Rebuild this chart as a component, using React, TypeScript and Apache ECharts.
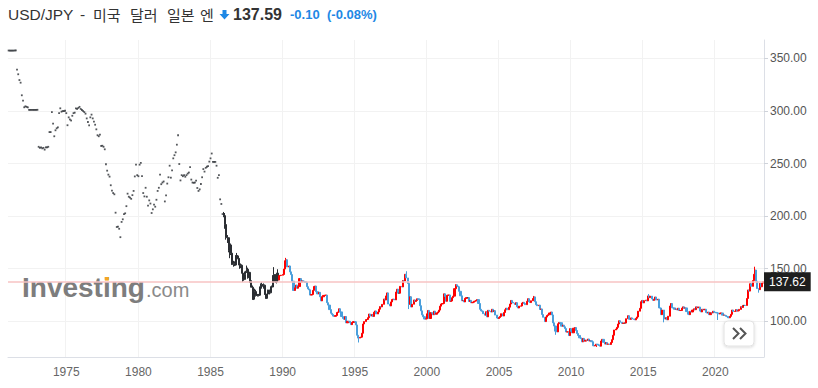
import React, { useEffect, useRef } from 'react';
import * as echarts from 'echarts';

// ---------- DATA (monthly closes, USD/JPY) ----------
const startYear = 1971;

const closes1970s = [
  357.6, 357.5, 357.5, 357.5, 357.5, 357.6, 357.7, 339.5, 335.0, 329.5, 327.0, 315.0, // 1971
  310.0, 303.6, 304.5, 304.0, 303.5, 301.1, 301.1, 301.1, 301.1, 301.1, 301.1, 301.1, // 1972
  301.2, 266.0, 265.0, 265.5, 264.5, 265.0, 263.3, 265.5, 265.5, 266.0, 280.0, 280.0, // 1973
  299.0, 288.0, 276.0, 281.7, 283.6, 284.5, 298.0, 302.6, 299.4, 300.0, 300.0, 300.3, // 1974
  298.0, 286.5, 294.0, 292.0, 291.0, 295.5, 298.0, 298.5, 302.6, 302.0, 303.0, 304.0, // 1975
  302.0, 301.0, 300.0, 299.0, 297.5, 293.0, 289.6, 286.4, 294.0, 296.6, 293.0, 290.0, // 1976
  287.0, 282.6, 277.0, 276.0, 277.5, 266.8, 267.0, 266.0, 263.6, 249.4, 243.3, 239.5, // 1977
  237.6, 229.4, 224.2, 222.0, 220.8, 203.3, 189.7, 190.0, 188.0, 180.0, 194.5, 197.0, // 1978
  202.0, 202.7, 209.5, 221.4, 218.5, 217.6, 216.5, 220.0, 224.0, 237.8, 249.0, 239.0, // 1979
];
const closes1980s = [
  238.0, 249.0, 250.7, 238.0, 222.0, 218.8, 227.0, 218.5, 210.0, 215.0, 212.0, 203.0, // 1980
  206.5, 210.9, 209.0, 215.6, 224.0, 227.0, 239.5, 230.4, 232.0, 233.0, 214.0, 219.7, // 1981
  231.0, 237.0, 248.0, 236.6, 243.5, 255.0, 258.0, 260.7, 268.0, 277.0, 249.6, 234.0, // 1982
  239.0, 238.0, 239.0, 237.5, 239.0, 240.5, 241.5, 246.6, 234.8, 232.0, 231.7, 232.0, // 1983
  233.8, 226.8, 224.0, 225.5, 230.6, 237.0, 244.8, 242.4, 246.0, 247.0, 247.6, 251.9, // 1984
  255.0, 259.6, 251.6, 251.6, 251.6, 248.0, 236.5, 239.0, 216.0, 211.6, 202.0, 200.5, // 1985
  192.0, 180.0, 179.5, 167.3, 172.6, 164.8, 154.2, 155.0, 153.5, 162.3, 162.2, 159.8, // 1986
  153.5, 153.3, 145.8, 139.6, 144.4, 147.0, 149.5, 142.0, 146.5, 137.6, 132.4, 121.0, // 1987
  127.3, 128.2, 124.6, 125.0, 124.8, 132.6, 133.2, 135.0, 134.3, 125.5, 121.8, 125.9, // 1988
  129.6, 127.1, 132.9, 132.6, 143.4, 144.3, 137.5, 145.8, 139.2, 143.3, 143.6, 143.8, // 1989
];
const closes1990s = [
  144.5, 149.7, 157.6, 158.5, 151.6, 152.6, 147.0, 144.4, 138.1, 129.3, 131.8, 134.4, // 1990
  131.4, 133.0, 140.6, 137.3, 138.5, 138.2, 137.6, 137.1, 132.9, 130.8, 129.9, 124.9, // 1991
  125.5, 129.4, 133.1, 133.5, 128.1, 126.0, 127.5, 123.3, 119.4, 123.3, 124.6, 124.8, // 1992
  124.9, 117.7, 115.4, 111.1, 107.6, 106.5, 104.9, 104.7, 105.5, 108.4, 108.8, 111.9, // 1993
  108.9, 104.5, 102.7, 101.8, 104.5, 98.5, 100.0, 99.9, 98.6, 96.8, 98.8, 99.7,       // 1994
  99.5, 96.5, 86.7, 84.0, 84.7, 84.9, 88.6, 97.4, 99.7, 101.6, 101.7, 103.4,          // 1995
  106.9, 104.9, 106.5, 104.6, 108.6, 109.8, 106.9, 108.8, 111.5, 114.0, 113.7, 116.1, // 1996
  121.2, 120.2, 124.1, 127.0, 116.4, 114.6, 118.4, 120.7, 121.1, 120.3, 127.8, 130.5, // 1997
  126.7, 126.7, 133.2, 132.7, 138.8, 138.3, 144.7, 141.2, 136.0, 116.1, 123.3, 113.6, // 1998
  116.2, 120.3, 118.8, 119.8, 121.4, 120.8, 114.8, 109.9, 106.1, 104.3, 102.1, 102.3, // 1999
];
const closes2000s = [
  107.1, 110.3, 102.6, 108.2, 107.7, 106.2, 109.6, 106.7, 107.9, 108.9, 110.6, 114.4, // 2000
  116.4, 116.9, 126.1, 123.6, 119.0, 124.7, 125.0, 118.9, 119.3, 122.4, 123.9, 131.0, // 2001
  134.7, 133.5, 132.8, 128.5, 124.2, 119.5, 119.8, 118.4, 121.8, 122.5, 122.5, 118.8, // 2002
  119.9, 117.6, 118.1, 119.0, 119.2, 119.8, 120.6, 116.9, 111.4, 109.9, 109.6, 107.2, // 2003
  105.8, 109.1, 104.2, 110.4, 109.6, 108.8, 111.4, 109.2, 110.1, 105.9, 103.1, 102.6, // 2004
  103.6, 104.6, 107.2, 105.0, 108.3, 110.9, 112.4, 111.0, 113.4, 116.4, 119.8, 117.9, // 2005
  117.3, 116.0, 117.7, 113.8, 112.6, 114.4, 114.6, 117.3, 118.0, 116.9, 115.8, 119.0, // 2006
  121.5, 118.6, 117.8, 119.5, 121.7, 123.2, 118.6, 115.8, 114.8, 115.3, 111.2, 111.7, // 2007
  106.4, 103.8, 99.7, 104.0, 105.5, 106.2, 107.9, 108.8, 106.0, 98.5, 95.5, 90.6,     // 2008
  89.9, 97.6, 98.9, 98.6, 95.3, 96.3, 94.7, 93.0, 89.8, 89.9, 86.4, 93.0,             // 2009
];
const closes2010s = [
  90.3, 89.0, 93.4, 94.0, 91.2, 88.4, 86.5, 84.2, 83.5, 80.4, 83.7, 81.1,             // 2010
  82.0, 81.8, 83.1, 81.2, 81.5, 80.5, 76.7, 76.6, 77.1, 78.2, 77.6, 76.9,             // 2011
  76.3, 81.2, 82.8, 80.0, 78.3, 79.8, 78.1, 78.4, 77.9, 79.8, 82.5, 86.7,             // 2012
  91.7, 92.6, 94.2, 97.4, 100.5, 99.1, 97.9, 98.2, 98.3, 98.3, 102.4, 105.3,          // 2013
  102.0, 101.8, 103.2, 102.2, 101.8, 101.3, 102.8, 104.1, 109.6, 112.3, 118.6, 119.8, // 2014
  117.5, 119.6, 120.1, 119.4, 124.1, 122.5, 123.9, 121.2, 119.9, 120.6, 123.1, 120.2, // 2015
  121.0, 112.7, 112.6, 106.3, 110.7, 103.2, 102.1, 103.4, 101.4, 104.8, 114.5, 116.9, // 2016
  112.8, 112.7, 111.4, 111.5, 110.8, 112.4, 110.2, 110.3, 112.5, 113.7, 112.5, 112.7, // 2017
  109.2, 106.7, 106.3, 109.4, 108.8, 110.7, 111.9, 111.0, 113.7, 112.9, 113.5, 109.7, // 2018
  108.9, 111.4, 110.9, 111.4, 108.3, 107.8, 108.7, 106.3, 108.1, 108.0, 109.5, 108.6, // 2019
];
const closes2020s = [
  108.4, 107.9, 107.5, 106.9, 107.8, 107.9, 105.8, 105.9, 105.5, 104.7, 104.3, 103.3, // 2020
  104.7, 106.6, 110.7, 109.3, 109.6, 111.1, 109.7, 110.0, 111.3, 113.9, 113.1, 115.1, // 2021
  115.1, 115.0, 121.7, 129.8, 128.7, 135.7, 133.2, 138.7, 144.7, 148.7, 138.1, 131.1, // 2022
  130.1, 136.2, 132.8, 136.3, 137.6,                                                   // 2023
];

// 1985-12 .. 1989-09: monthly ranges (black candles)
const blackStart = '1985-12';
const blackEnd = '1989-09';
const blackHighs = [
  204.0,
  203.0, 192.6, 182.0, 180.0, 175.0, 174.0, 167.0, 157.5, 157.0, 163.0, 165.0, 163.0,
  160.0, 155.0, 154.0, 147.0, 145.0, 148.0, 153.0, 151.0, 147.0, 147.0, 139.0, 134.0,
  131.0, 131.0, 130.0, 126.0, 126.0, 133.0, 136.0, 137.0, 136.0, 135.0, 126.0, 126.0,
  130.0, 130.0, 133.0, 134.0, 144.0, 151.5, 145.0, 146.0, 149.5,
];
const blackLows = [
  199.0,
  188.0, 177.6, 174.5, 165.6, 160.0, 163.0, 153.5, 151.9, 152.5, 153.0, 160.0, 159.0,
  149.9, 150.5, 145.5, 137.3, 138.5, 139.5, 146.0, 140.5, 141.0, 136.5, 132.0, 120.3,
  120.2, 126.5, 123.5, 123.5, 123.6, 124.5, 131.0, 131.0, 131.0, 125.0, 121.3, 121.5,
  124.5, 125.5, 126.5, 130.5, 132.5, 139.5, 136.5, 136.0, 138.5,
];
// notable wick extremes of the coloured candles
const wickHighs: [string, number][] = [
  ['1990-04', 160.3], ['1998-08', 147.6], ['2002-01', 135.2], ['2007-06', 124.1],
  ['2015-06', 125.9], ['2022-10', 151.9],
];
const wickLows: [string, number][] = [
  ['1995-04', 79.8], ['1998-10', 111.6], ['2008-12', 87.1], ['2011-10', 75.6],
  ['2016-06', 99.0], ['2020-03', 101.2], ['2023-01', 127.2],
];

const currentPrice = 137.62;
const quotePrice = '137.59';
const quoteChange = '-0.10';
const quotePct = '(-0.08%)';
const yTickValues = [100, 150, 200, 250, 300, 350];

// ---------- derived ----------
const closes = [...closes1970s, ...closes1980s, ...closes1990s, ...closes2000s, ...closes2010s, ...closes2020s];
const months = closes.map((_, i) => {
  const y = startYear + Math.floor(i / 12);
  const m = (i % 12) + 1;
  return `${y}-${m < 10 ? '0' + m : m}`;
});
const blackStartIdx = months.indexOf(blackStart);
const blackEndIdx = months.indexOf(blackEnd);
const hiMap = new Map(wickHighs);
const loMap = new Map(wickLows);

const UP = '#ff0000';
const DOWN = '#4a9fdc';
const BLACK = '#2b2e33';
const blackStyle = {
  color: BLACK, color0: BLACK, borderColor: BLACK, borderColor0: BLACK, borderColorDoji: BLACK, borderWidth: 1,
};

const candleItems = closes.map((c, i) => {
  if (i < blackStartIdx) return '-';
  const o = closes[i - 1];
  if (i <= blackEndIdx) {
    const k = i - blackStartIdx;
    return {
      value: [o, c, Math.min(blackLows[k], o, c), Math.max(blackHighs[k], o, c)],
      itemStyle: blackStyle,
    };
  }
  const m = months[i];
  const hi = Math.max(o, c, hiMap.get(m) ?? -Infinity);
  const lo = Math.min(o, c, loMap.get(m) ?? Infinity);
  return { value: [o, c, lo, hi] };
});
// fixed / early floating era: one close per month, drawn as dots
const dotItems = closes.map((c, i) => (i < blackStartIdx ? c : '-'));

const isLabelMonth = (v: string) => v.endsWith('-01') && Number(v.slice(0, 4)) % 5 === 0;

const FONT = "'Liberation Sans', Arial, 'Noto Sans CJK KR', sans-serif";
const KFONT = "'Noto Sans CJK KR', 'Liberation Sans', sans-serif";

export default function App() {
  const ref = useRef<HTMLDivElement>(null);
  useEffect(() => {
    if (!ref.current) return;
    const chart = echarts.init(ref.current, undefined, { renderer: 'svg' });
    const option: any = {
      animation: false,
      backgroundColor: '#ffffff',
      textStyle: { fontFamily: FONT },
      grid: { left: 8, right: 54, top: 40, bottom: 31 },
      xAxis: {
        type: 'category',
        data: months,
        boundaryGap: true,
        axisLine: { show: true, lineStyle: { color: '#dcdfe6', width: 1 } },
        axisTick: { show: false },
        axisLabel: {
          interval: (_i: number, v: string) => isLabelMonth(v),
          formatter: (v: string) => v.slice(0, 4),
          color: '#666',
          fontSize: 12,
          margin: 9,
          fontFamily: FONT,
        },
        splitLine: {
          show: true,
          interval: (_i: number, v: string) => isLabelMonth(v),
          lineStyle: { color: '#f2f2f2', width: 1 },
        },
      },
      yAxis: {
        type: 'value',
        position: 'right',
        min: 66,
        max: 367.6,
        axisLine: { show: true, lineStyle: { color: '#dcdfe6', width: 1 } },
        axisTick: { show: true, length: 4, inside: false, customValues: yTickValues, lineStyle: { color: '#cfd3da' } },
        axisLabel: {
          customValues: yTickValues,
          formatter: (v: number) => v.toFixed(2),
          color: '#555',
          fontSize: 12,
          margin: 6,
          fontFamily: FONT,
        },
        splitLine: { show: true, lineStyle: { color: '#f2f2f2', width: 1 } },
      },
      series: [
        {
          type: 'scatter',
          data: dotItems,
          symbol: 'rect',
          symbolSize: [1.8, 1.8],
          itemStyle: { color: '#2b2e33' },
          silent: true,
          z: 3,
        },
        {
          type: 'candlestick',
          large: false,
          barWidth: 1.6,
          data: candleItems,
          itemStyle: {
            color: UP, color0: DOWN, borderColor: UP, borderColor0: DOWN, borderColorDoji: BLACK, borderWidth: 1,
          },
          markLine: {
            silent: true,
            symbol: ['none', 'none'],
            lineStyle: { color: '#f7c3c3', width: 1.5, type: 'solid' },
            label: {
              show: true,
              position: 'end',
              distance: 0,
              formatter: currentPrice.toFixed(2),
              backgroundColor: '#1e1e1e',
              color: '#ffffff',
              padding: [4, 5, 3, 5],
              fontSize: 12,
              fontFamily: FONT,
            },
            data: [{ yAxis: currentPrice }],
          },
          z: 3,
        },
      ],
      graphic: [
        { type: 'text', x: 8, y: 14, style: { text: 'USD/JPY', font: `15.5px ${FONT}`, fill: '#333', verticalAlign: 'middle' } },
        { type: 'text', x: 80, y: 14, style: { text: '-', font: `15.5px ${FONT}`, fill: '#333', verticalAlign: 'middle' } },
        { type: 'text', x: 93, y: 14, style: { text: '미국', font: `15px ${KFONT}`, fill: '#333', verticalAlign: 'middle' } },
        { type: 'text', x: 130, y: 14, style: { text: '달러', font: `15px ${KFONT}`, fill: '#333', verticalAlign: 'middle' } },
        { type: 'text', x: 167, y: 14, style: { text: '일본', font: `15px ${KFONT}`, fill: '#333', verticalAlign: 'middle' } },
        { type: 'text', x: 200, y: 14, style: { text: '엔', font: `15px ${KFONT}`, fill: '#333', verticalAlign: 'middle' } },
        {
          type: 'polygon',
          shape: { points: [[222.5, 10], [226.5, 10], [226.5, 14], [229.5, 14], [224.5, 19.5], [219.5, 14], [222.5, 14]] },
          style: { fill: '#1e88e5' },
        },
        { type: 'text', x: 233, y: 14, style: { text: quotePrice, font: `bold 16px ${FONT}`, fill: '#333', verticalAlign: 'middle' } },
        { type: 'text', x: 290, y: 14, style: { text: quoteChange, font: `bold 13px ${FONT}`, fill: '#1e88e5', verticalAlign: 'middle' } },
        { type: 'text', x: 327, y: 14, style: { text: quotePct, font: `bold 13px ${FONT}`, fill: '#1e88e5', verticalAlign: 'middle' } },
        // watermark
        { type: 'text', x: 22, y: 287.3, z: 1, style: { text: 'Investing', font: `bold 28px ${FONT}`, fill: '#7d7d7d', verticalAlign: 'middle' } },
        { type: 'text', x: 146, y: 290, z: 1, style: { text: '.com', font: `20px ${FONT}`, fill: '#8a8a8a', verticalAlign: 'middle' } },
        { type: 'rect', z: 2, shape: { x: 104.8, y: 277, width: 4, height: 3.6 }, style: { fill: '#f5a623' } },
        // scroll button
        {
          type: 'rect', z: 5,
          shape: { x: 724, y: 321, width: 30, height: 25, r: 4 },
          style: { fill: '#ffffff', stroke: '#e2e2e2', lineWidth: 1, shadowBlur: 3, shadowColor: 'rgba(0,0,0,0.15)', shadowOffsetY: 1 },
        },
        { type: 'polyline', z: 6, shape: { points: [[733, 328], [738.5, 333.5], [733, 339]] }, style: { stroke: '#555', lineWidth: 2, fill: 'none' } },
        { type: 'polyline', z: 6, shape: { points: [[740, 328], [745.5, 333.5], [740, 339]] }, style: { stroke: '#555', lineWidth: 2, fill: 'none' } },
      ],
    };
    chart.setOption(option);
    return () => chart.dispose();
  }, []);
  return <div ref={ref} style={{ position: 'fixed', left: 0, top: 0, width: 818, height: 388 }} />;
}
